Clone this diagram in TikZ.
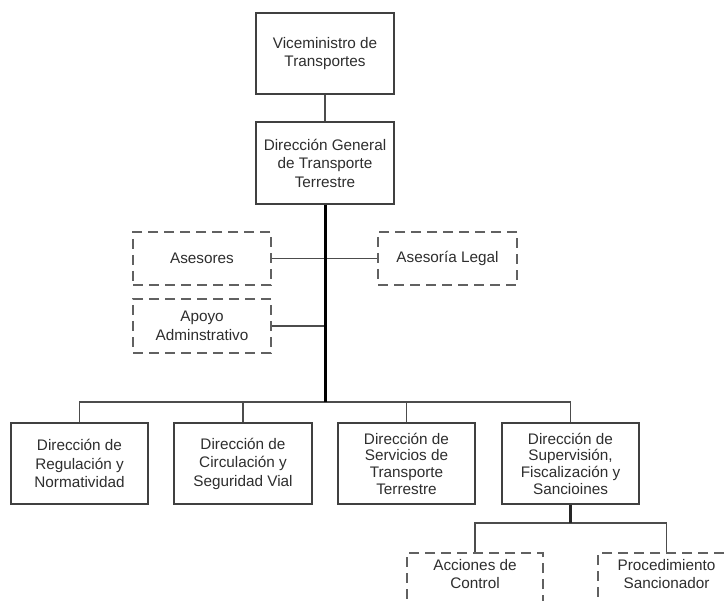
\documentclass[tikz,border=0pt]{standalone}
\usepackage{fontspec}
\setmainfont{Liberation Sans}
\begin{document}
\begin{tikzpicture}[x=1pt,y=-1pt,
  every node/.style={font=\fontsize{15.3}{18.5}\selectfont, text=black!82, align=center},
  solidbox/.style={draw=black!75, line width=1.7pt, rectangle, inner sep=0pt},
  dashbox/.style={draw=black!62, line width=1.8pt, dash pattern=on 10pt off 6pt, rectangle, inner sep=0pt},
  conn/.style={draw=black!70, line width=1.8pt},
  mainline/.style={draw=black, line width=3pt},
  subline/.style={draw=black!85, line width=2.2pt}]
\useasboundingbox (0,0) rectangle (725,601);
\clip (0,0) rectangle (725,601);
\fill[white] (0,0) rectangle (725,601);

\node[solidbox, minimum width=138pt, minimum height=81pt] (V) at (325,53.5) {Viceministro de\\Transportes};
\node[solidbox, minimum width=138pt, minimum height=82pt] (D) at (325,163) {Direcci\'on General\\de Transporte\\Terrestre};

\node[dashbox, minimum width=138pt, minimum height=53pt] (A) at (202,258.5) {Asesores};
\node[dashbox, minimum width=139pt, minimum height=53pt] (L) at (447.5,258.5) {Asesor\'ia Legal};
\node[dashbox, minimum width=138pt, minimum height=54pt] (P) at (202,326) {Apoyo\\Adminstrativo};

\node[solidbox, minimum width=137pt, minimum height=81pt] (R1) at (79.5,463.5) {Direcci\'on de\\Regulaci\'on y\\Normatividad};
\node[solidbox, minimum width=138pt, minimum height=81pt] (R2) at (243,463.5) {Direcci\'on de\\Circulaci\'on y\\Seguridad Vial};
\node[solidbox, minimum width=137pt, minimum height=81pt, font=\fontsize{15.3}{16.7}\selectfont] (R3) at (406.5,463.5) {Direcci\'on de\\Servicios de\\Transporte\\Terrestre};
\node[solidbox, minimum width=137pt, minimum height=81pt, font=\fontsize{15.3}{16.7}\selectfont] (R4) at (570.5,463.5) {Direcci\'on de\\Supervisi\'on,\\Fiscalizaci\'on y\\Sancioines};

\node[dashbox, minimum width=136pt, minimum height=60pt] (C1) at (475,583) {Acciones de\\Control\\\mbox{}};
\node[dashbox, minimum width=137pt, minimum height=60pt] (C2) at (666.5,583) {Procedimiento\\Sancionador\\\mbox{}};

\coordinate (bus) at (325,402);
\coordinate (sbus) at (570.5,523);

\draw[conn] (V.south) -- (D.north);
\draw[conn] (A.east) -- (L.west);
\draw[conn] (P.east) -- (P.east -| bus);
\draw[conn] (R1.north) |- (bus) -| (R4.north);
\draw[conn] (R2.north) |- (bus);
\draw[conn] (R3.north) |- (bus);
\draw[conn] (C1.north) |- (sbus) -| (C2.north);
\draw[mainline] (D.south) -- (bus);
\draw[subline] (R4.south) -- (sbus);
\end{tikzpicture}
\end{document}
